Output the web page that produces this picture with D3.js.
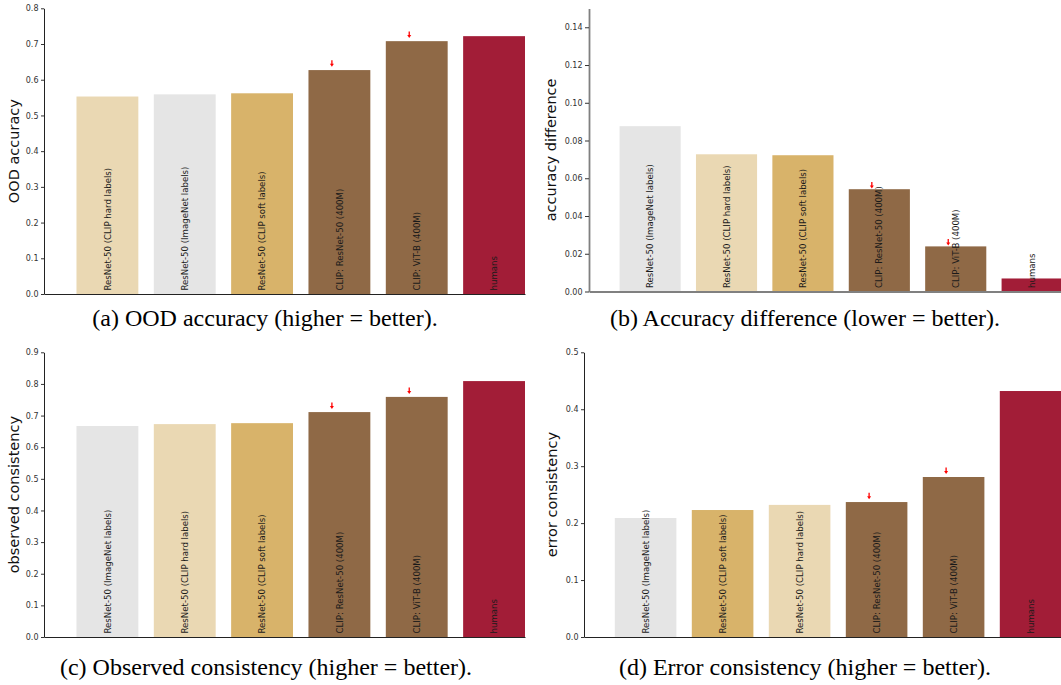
<!DOCTYPE html>
<html><head><meta charset="utf-8">
<script src="https://cdn.jsdelivr.net/npm/d3@7"></script>
<style>
body{margin:0;background:#fff}
svg{display:block}
</style>
</head><body>
<svg id="chart" width="1061" height="685"></svg>
<script>
// ---------- data ----------
const catsA = ["ResNet-50 (CLIP hard labels)", "ResNet-50 (ImageNet labels)", "ResNet-50 (CLIP soft labels)", "CLIP: ResNet-50 (400M)", "CLIP: ViT-B (400M)", "humans"];
const valsA = [0.553, 0.559, 0.562, 0.627, 0.708, 0.722];
const catsB = ["ResNet-50 (ImageNet labels)", "ResNet-50 (CLIP hard labels)", "ResNet-50 (CLIP soft labels)", "CLIP: ResNet-50 (400M)", "CLIP: ViT-B (400M)", "humans"];
const valsB = [0.0876, 0.0727, 0.0722, 0.0542, 0.0239, 0.0069];
const catsC = ["ResNet-50 (ImageNet labels)", "ResNet-50 (CLIP hard labels)", "ResNet-50 (CLIP soft labels)", "CLIP: ResNet-50 (400M)", "CLIP: ViT-B (400M)", "humans"];
const valsC = [0.667, 0.673, 0.676, 0.711, 0.759, 0.809];
const catsD = ["ResNet-50 (ImageNet labels)", "ResNet-50 (CLIP soft labels)", "ResNet-50 (CLIP hard labels)", "CLIP: ResNet-50 (400M)", "CLIP: ViT-B (400M)", "humans"];
const valsD = [0.209, 0.223, 0.232, 0.237, 0.281, 0.432];

// red arrow markers (category, value of arrow tip)
const arrowCats = ["CLIP: ResNet-50 (400M)", "CLIP: ViT-B (400M)"];
const arrowsA = [0.636, 0.717];
const arrowsB = [0.0546, 0.0244];
const arrowsC = [0.721, 0.768];
const arrowsD = [0.2418, 0.2862];

const ticksA = [0, 0.1, 0.2, 0.3, 0.4, 0.5, 0.6, 0.7, 0.8];
const ticksB = [0, 0.02, 0.04, 0.06, 0.08, 0.10, 0.12, 0.14];
const ticksC = [0, 0.1, 0.2, 0.3, 0.4, 0.5, 0.6, 0.7, 0.8, 0.9];
const ticksD = [0, 0.1, 0.2, 0.3, 0.4, 0.5];

const yLabels = ["OOD accuracy", "accuracy difference", "observed consistency", "error consistency"];
const captions = ["(a) OOD accuracy (higher = better).", "(b) Accuracy difference (lower = better).",
                  "(c) Observed consistency (higher = better).", "(d) Error consistency (higher = better)."];

// ---------- style ----------
const colorOf = {
  "ResNet-50 (CLIP hard labels)": "#EAD8B3",
  "ResNet-50 (ImageNet labels)": "#E5E5E5",
  "ResNet-50 (CLIP soft labels)": "#D8B36A",
  "CLIP: ResNet-50 (400M)": "#8F6946",
  "CLIP: ViT-B (400M)": "#8F6946",
  "humans": "#A21D37"
};

const panels = [
  {cats: catsA, vals: valsA, arrows: arrowsA, ticks: ticksA, dom: [0, 0.8], fmt: d3.format(".1f"),
   x0: 44, x1: 525, y0: 294, y1: 8.3, xd: [-0.82, 5.4], spine: "#222", sw: 1, tl: 3, tp: 2.5,
   ylabX: 18.6, cap: [265, 326]},
  {cats: catsB, vals: valsB, arrows: arrowsB, ticks: ticksB, dom: [0, 0.15], fmt: d3.format(".2f"),
   x0: 589, x1: 1062.7, y0: 291.5, y1: 8.4, xd: [-0.8, 5.4], spine: "#808080", sw: 1.8, tl: 4, tp: 2.5,
   ylabX: 556.3, cap: [805, 326]},
  {cats: catsC, vals: valsC, arrows: arrowsC, ticks: ticksC, dom: [0, 0.9], fmt: d3.format(".1f"),
   x0: 44, x1: 525, y0: 637, y1: 352.3, xd: [-0.82, 5.4], spine: "#222", sw: 1, tl: 3, tp: 2.5,
   ylabX: 18.6, cap: [266, 675]},
  {cats: catsD, vals: valsD, arrows: arrowsD, ticks: ticksD, dom: [0, 0.5], fmt: d3.format(".1f"),
   x0: 584, x1: 1061.4, y0: 637, y1: 352.3, xd: [-0.8, 5.4], spine: "#222", sw: 1, tl: 3, tp: 2.5,
   ylabX: 557, cap: [805, 675]}
];

const svg = d3.select("#chart");

panels.forEach((p, pi) => {
  const g = svg.append("g");
  const x = d3.scaleLinear().domain(p.xd).range([p.x0, p.x1]);
  const y = d3.scaleLinear().domain(p.dom).range([p.y0, p.y1]);
  const bw = x(0.8) - x(0);
  const data = p.cats.map((c, i) => ({c, v: p.vals[i], i}));

  // bars
  g.selectAll("rect.bar").data(data).join("rect")
    .attr("class", "bar")
    .attr("x", d => x(d.i - 0.4))
    .attr("width", bw)
    .attr("y", d => y(d.v))
    .attr("height", d => y(0) - y(d.v))
    .attr("fill", d => colorOf[d.c]);

  // bar labels (rotated)
  g.selectAll("text.blab").data(data).join("text")
    .attr("class", "blab")
    .attr("transform", d => `translate(${x(d.i)},${y(0) - 3.5}) rotate(-90)`)
    .attr("dy", "0.36em")
    .attr("text-anchor", "start")
    .style("font-family", "DejaVu Sans, sans-serif")
    .style("font-size", "8.6px")
    .style("fill", "#1a1a1a")
    .text(d => d.c);

  // y axis
  const ax = d3.axisLeft(y).tickValues(p.ticks).tickFormat(p.fmt)
    .tickSize(p.tl).tickPadding(p.tp).tickSizeOuter(0);
  const ag = g.append("g").attr("transform", `translate(${p.x0},0)`).call(ax);
  ag.select(".domain").attr("stroke", p.spine).attr("stroke-width", p.sw);
  ag.selectAll(".tick line").attr("stroke", "#333");
  ag.selectAll(".tick text").style("font-family", "DejaVu Sans, sans-serif")
    .style("font-size", "8px").style("fill", "#333");

  // bottom spine
  const bx = d3.axisBottom(x).tickValues([]).tickSizeOuter(0);
  const bg = g.append("g").attr("transform", `translate(0,${p.y0})`).call(bx);
  bg.select(".domain").attr("stroke", p.spine).attr("stroke-width", p.sw);

  // red arrows
  const arr = arrowCats.map((c, k) => ({i: p.cats.indexOf(c), t: p.arrows[k]}));
  const ag2 = g.selectAll("g.arrow").data(arr).join("g").attr("class", "arrow")
    .attr("transform", d => `translate(${x(d.i) - 7.5},${y(d.t)})`);
  ag2.append("line").attr("x1", 0).attr("x2", 0).attr("y1", -6.5).attr("y2", -2.5)
    .attr("stroke", "#ff0000").attr("stroke-width", 1.3);
  ag2.append("path").attr("d", "M-2,-3 L2,-3 L0,0 Z").attr("fill", "#ff0000");

  // y label
  g.append("text")
    .attr("transform", `translate(${p.ylabX},${(p.y0 + p.y1) / 2}) rotate(-90)`)
    .attr("text-anchor", "middle")
    .style("font-family", "DejaVu Sans, sans-serif")
    .style("font-size", "14.5px")
    .style("fill", "#111")
    .text(yLabels[pi]);

  // caption
  svg.append("text")
    .attr("x", p.cap[0]).attr("y", p.cap[1])
    .attr("text-anchor", "middle")
    .style("font-family", "Liberation Serif, Times New Roman, serif")
    .style("font-size", "24px")
    .style("fill", "#000")
    .text(captions[pi]);
});
</script>
</body></html>
